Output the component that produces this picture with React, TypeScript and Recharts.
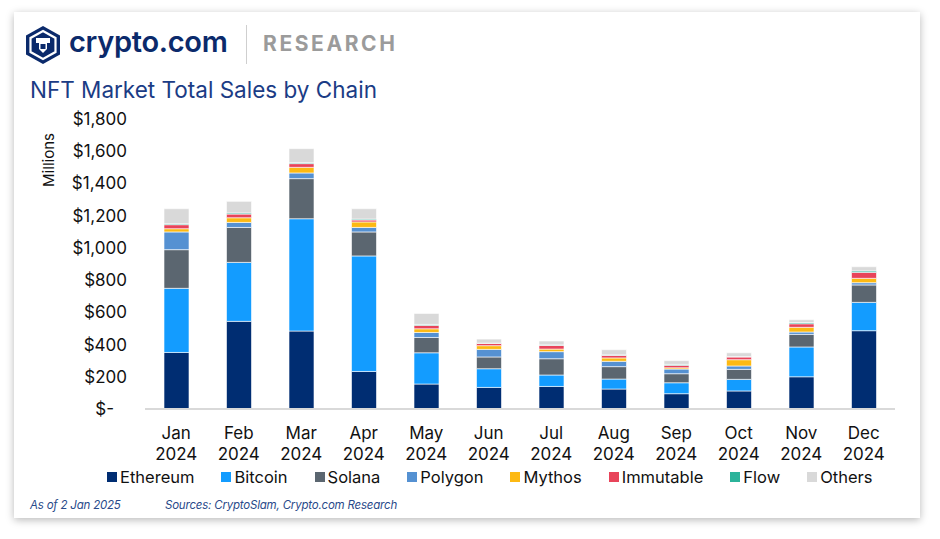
import React from "react";
import { BarChart, Bar, XAxis, YAxis } from "recharts";

const months = ["Jan", "Feb", "Mar", "Apr", "May", "Jun", "Jul", "Aug", "Sep", "Oct", "Nov", "Dec"];
const year = "2024";

const ethereum = [351, 544, 484, 233, 155, 134, 140, 124, 95, 112, 200, 486];
const bitcoin = [398, 366, 697, 717, 194, 116, 71, 62, 68, 72, 185, 176];
const solana = [240, 217, 249, 149, 95, 73, 101, 77, 56, 62, 78, 108];
const polygon = [110, 31, 35, 28, 31, 47, 44, 33, 29, 21, 15, 14];
const mythos = [20, 29, 35, 34, 23, 23, 16, 21, 8, 39, 29, 27];
const immutable = [25, 23, 23, 12, 21, 14, 23, 16, 15, 17, 22, 37];
const flow = [6, 7, 6, 6, 6, 2, 3, 3, 6, 2, 8, 9];
const others = [93, 72, 87, 64, 68, 25, 24, 32, 23, 24, 17, 26];

const yTicks = [0, 200, 400, 600, 800, 1000, 1200, 1400, 1600, 1800];

const series = [
  { key: "Ethereum", values: ethereum, color: "#002D72" },
  { key: "Bitcoin", values: bitcoin, color: "#139CFF" },
  { key: "Solana", values: solana, color: "#5B6670" },
  { key: "Polygon", values: polygon, color: "#5591D2" },
  { key: "Mythos", values: mythos, color: "#FDB913" },
  { key: "Immutable", values: immutable, color: "#E8445A" },
  { key: "Flow", values: flow, color: "#2BB39A" },
  { key: "Others", values: others, color: "#D9D9D9" },
];

const data = months.map((m, i) => {
  const row: any = { month: m + " " + year };
  series.forEach((s) => (row[s.key] = s.values[i]));
  return row;
});

const FONT = "Inter, 'Noto Sans', sans-serif";
const NAVY = "#0b2a6b";

const MonthTick = (props: any) => {
  const { x, y, payload } = props;
  const [m, yr] = String(payload.value).split(" ");
  return (
    <g transform={`translate(${x},${y})`}>
      <text textAnchor="middle" fill="#111" fontSize={17} fontFamily={FONT}>
        <tspan x={0} dy={22}>{m}</tspan>
        <tspan x={0} dy={21}>{yr}</tspan>
      </text>
    </g>
  );
};

// accounting style: zero is "$-" and sits a bit left of the other labels
const MoneyTick = (props: any) => {
  const { x, y, payload } = props;
  const v = payload.value as number;
  const label = v === 0 ? "$-" : "$" + v.toLocaleString("en-US");
  return (
    <text x={v === 0 ? x - 13 : x} y={y} dy={6} textAnchor="end" fill="#111" fontSize={17} fontFamily={FONT}>
      {label}
    </text>
  );
};

// legend drawn as html so it doesn't squeeze the plot
const ChainLegend = () => (
  <div
    style={{
      position: "absolute",
      left: 107,
      top: 467,
      display: "flex",
      fontFamily: FONT,
      fontSize: 16.5,
      color: "#111",
      whiteSpace: "nowrap",
    }}
  >
    {series.map((s) => (
      <div key={s.key} style={{ display: "flex", alignItems: "center", marginRight: 27 }}>
        <span style={{ width: 10, height: 10, background: s.color, display: "inline-block", marginRight: 3 }} />
        <span>{s.key}</span>
      </div>
    ))}
  </div>
);

const Logo = () => (
  <svg width={34} height={38} viewBox="0 0 34 38" style={{ position: "absolute", left: 26, top: 26 }}>
    <polygon points="17,0 34,9.5 34,28.5 17,38 0,28.5 0,9.5" fill="#0b2a6b" />
    <polygon points="17,5 29.5,12 29.5,26 17,33 4.5,26 4.5,12" fill="none" stroke="#fff" strokeWidth={2.2} />
    <path d="M10,12 L24,12 L24,17 L21,17 L21,23 L17,27 L13,23 L13,17 L10,17 Z" fill="#fff" />
    <rect x={14.5} y={18} width={5} height={5} fill="#0b2a6b" />
  </svg>
);

export default function App() {
  return (
    <div style={{ position: "absolute", left: 0, top: 0, width: 940, height: 539, background: "#fff", overflow: "hidden" }}>
      <div
        style={{
          position: "absolute",
          left: 14,
          top: 12,
          width: 906,
          height: 506,
          background: "#fff",
          boxShadow: "0 2px 8px rgba(0,0,0,0.28)",
        }}
      />
      <Logo />
      <div style={{ position: "absolute", left: 69, top: 24, fontFamily: FONT, fontSize: 29, fontWeight: 600, color: NAVY, letterSpacing: -0.3 }}>
        crypto.com
      </div>
      <div style={{ position: "absolute", left: 246, top: 25, width: 1, height: 39, background: "#cfcfcf" }} />
      <div style={{ position: "absolute", left: 263, top: 31, fontFamily: FONT, fontSize: 21, fontWeight: 700, color: "#9b9b9b", letterSpacing: 2.6 }}>
        RESEARCH
      </div>
      <div style={{ position: "absolute", left: 30, top: 76, fontFamily: FONT, fontSize: 22.5, color: "#1b3c85" }}>
        NFT Market Total Sales by Chain
      </div>
      <div
        style={{
          position: "absolute",
          left: 48,
          top: 160,
          transform: "translate(-50%, -50%) rotate(-90deg)",
          fontFamily: FONT,
          fontSize: 15,
          color: "#111",
          whiteSpace: "nowrap",
        }}
      >
        Millions
      </div>
      <div style={{ position: "absolute", left: 0, top: 0 }}>
        <BarChart width={940} height={539} data={data} margin={{ top: 119, right: 45, bottom: 70, left: 85 }} barSize={25}>
          <XAxis
            dataKey="month"
            tick={<MonthTick />}
            tickLine={false}
            axisLine={{ stroke: "#d9d9d9", strokeWidth: 2 }}
            interval={0}
            height={60}
          />
          <YAxis
            width={60}
            domain={[0, 1800]}
            ticks={yTicks}
            axisLine={false}
            tickLine={false}
            tickSize={0}
            tickMargin={18}
            tick={<MoneyTick />}
          />
          {series.map((s) => (
            <Bar key={s.key} dataKey={s.key} stackId="a" fill={s.color} stroke="#ffffff" strokeWidth={0.6} isAnimationActive={false} />
          ))}
        </BarChart>
      </div>
      <ChainLegend />
      <div style={{ position: "absolute", left: 30, top: 498, fontFamily: FONT, fontSize: 11.5, fontStyle: "italic", color: "#2a4a8a", letterSpacing: -0.2 }}>
        As of 2 Jan 2025
      </div>
      <div style={{ position: "absolute", left: 165, top: 498, fontFamily: FONT, fontSize: 11.5, fontStyle: "italic", color: "#2a4a8a", letterSpacing: -0.2 }}>
        Sources: CryptoSlam, Crypto.com Research
      </div>
    </div>
  );
}
